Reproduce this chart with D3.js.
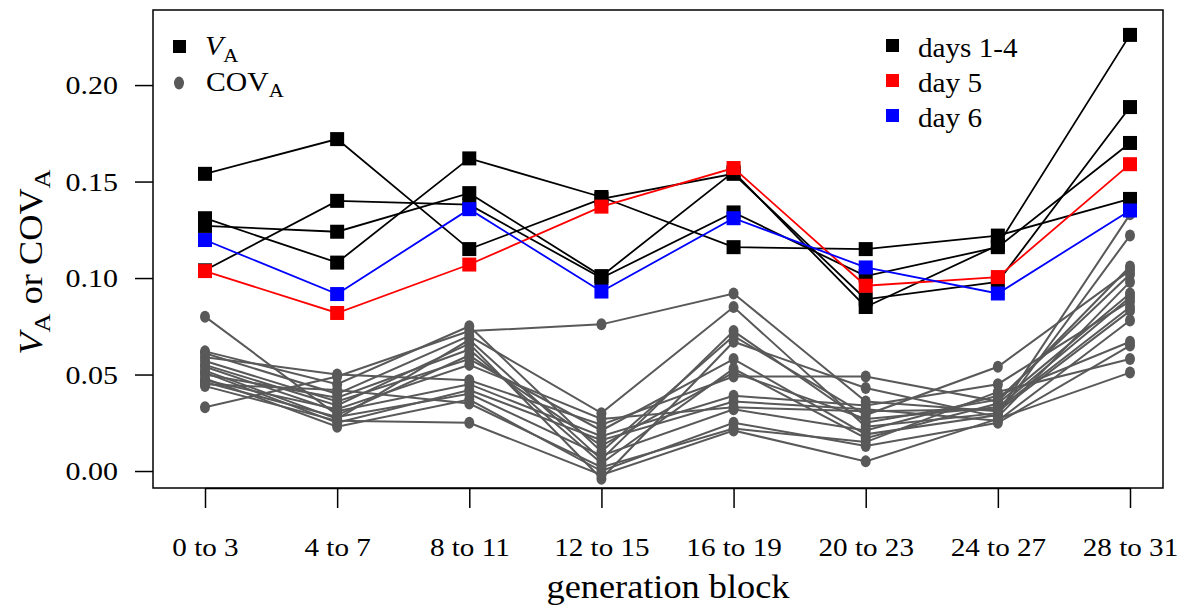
<!DOCTYPE html>
<html>
<head>
<meta charset="utf-8">
<script src="https://cdn.jsdelivr.net/npm/d3@7"></script>
<style>
  body { margin: 0; background: #fff; }
  text { font-family: "Liberation Serif", "DejaVu Serif", serif; }
</style>
</head>
<body>
<script>
// generation blocks on the x axis
var blocks = ['0 to 3', '4 to 7', '8 to 11', '12 to 15', '16 to 19', '20 to 23', '24 to 27', '28 to 31'];
var yTicks = [0, 0.05, 0.10, 0.15, 0.20];

// V_A, days 1-4 (four replicates)
var vaDays14 = [
    [0.154, 0.172, 0.115, 0.141, 0.154, 0.089, 0.098, 0.1886],
    [0.104, 0.140, 0.138, 0.100, 0.134, 0.101, 0.116, 0.170],
    [0.131, 0.108, 0.162, 0.142, 0.116, 0.115, 0.122, 0.141],
    [0.127, 0.124, 0.144, 0.101, 0.155, 0.085, 0.117, 0.226]
];
// V_A, day 5 and day 6
var vaDay5 = [0.1036, 0.0819, 0.107, 0.137, 0.157, 0.096, 0.1005, 0.159];
var vaDay6 = [0.1197, 0.0917, 0.1357, 0.093, 0.131, 0.1055, 0.092, 0.135];

// COV_A series
var covA = [
    [0.080, 0.029, 0.060, 0.013, 0.051, 0.027, 0.033, 0.090],
    [0.033, 0.049, 0.0725, 0.076, 0.092, 0.036, 0.031, 0.083],
    [0.062, 0.045, 0.075, 0.010, 0.070, 0.029, 0.054, 0.104],
    [0.061, 0.040, 0.070, 0.030, 0.085, 0.023, 0.030, 0.133],
    [0.059, 0.050, 0.047, 0.024, 0.049, 0.049, 0.036, 0.106],
    [0.057, 0.036, 0.058, 0.021, 0.058, 0.019, 0.029, 0.122],
    [0.055, 0.034, 0.066, -0.004, 0.067, 0.043, 0.028, 0.098],
    [0.054, 0.031, 0.045, 0.018, 0.039, 0.034, 0.045, 0.088],
    [0.052, 0.027, 0.068, 0.006, 0.0725, 0.025, 0.037, 0.102],
    [0.051, 0.025, 0.042, 0.016, 0.036, 0.032, 0.026, 0.078],
    [0.050, 0.038, 0.063, 0.004, 0.053, 0.017, 0.035, 0.092],
    [0.048, 0.023, 0.037, 0.000, 0.025, 0.013, 0.025, 0.065],
    [0.047, 0.032, 0.055, 0.027, 0.033, 0.031, 0.032, 0.085],
    [0.046, 0.028, 0.040, 0.008, 0.032, 0.021, 0.039, 0.067],
    [0.045, 0.042, 0.035, 0.002, 0.022, 0.015, 0.041, 0.058],
    [0.044, 0.026, 0.025, -0.002, 0.021, 0.005, 0.027, 0.051]
];

var frame = {left: 153, right: 1163, top: 10, bottom: 488};
var grey = '#595959';

var svg = d3.select('body').append('svg')
    .attr('width', 1189)
    .attr('height', 609);

var x = d3.scaleLinear().domain([0, blocks.length - 1]).range([205, 1130]);
var y = d3.scaleLinear().domain([-0.0088, 0.2389]).range([frame.bottom, frame.top]);

var line = d3.line()
    .x(function(d, i) { return x(i); })
    .y(function(d) { return y(d); });

// the original type is a bit wider than Liberation Serif, so widen it
function widen(sel, k) {
    sel.each(function() {
        var w = this.getComputedTextLength();
        d3.select(this).attr('textLength', w * k).attr('lengthAdjust', 'spacingAndGlyphs');
    });
}

// box
svg.append('rect')
    .attr('x', frame.left)
    .attr('y', frame.top)
    .attr('width', frame.right - frame.left)
    .attr('height', frame.bottom - frame.top)
    .attr('fill', 'none')
    .attr('stroke', '#000')
    .attr('stroke-width', 1.5);

// x axis
var xAxis = svg.append('g')
    .attr('transform', 'translate(0,' + frame.bottom + ')')
    .call(d3.axisBottom(x).tickValues(d3.range(blocks.length))
        .tickFormat(function(i) { return blocks[i]; })
        .tickSize(20).tickSizeOuter(0));
xAxis.select('.domain').attr('stroke-width', 1.5);
xAxis.selectAll('line').attr('stroke-width', 1.5);
xAxis.selectAll('text')
    .attr('y', 68).attr('dy', null)
    .attr('font-size', 26)
    .style('font-family', '"Liberation Serif", serif')
    .call(widen, 1.12);

// y axis
var yAxis = svg.append('g')
    .attr('transform', 'translate(' + frame.left + ',0)')
    .call(d3.axisLeft(y).tickValues(yTicks)
        .tickFormat(d3.format('.2f'))
        .tickSize(18).tickPadding(17).tickSizeOuter(0));
yAxis.select('.domain').remove();
yAxis.selectAll('line').attr('stroke-width', 1.5);
yAxis.selectAll('text')
    .attr('font-size', 25)
    .attr('dy', '0.34em')
    .style('font-family', '"Liberation Serif", serif')
    .call(widen, 1.2);

// COV_A lines and dots
covA.forEach(function(s) {
    svg.append('path')
        .attr('d', line(s))
        .attr('fill', 'none')
        .attr('stroke', grey)
        .attr('stroke-width', 2);
    svg.selectAll(null).data(s).enter().append('ellipse')
        .attr('cx', function(d, i) { return x(i); })
        .attr('cy', function(d) { return y(d); })
        .attr('rx', 5)
        .attr('ry', 6)
        .attr('fill', grey);
});

// V_A lines and squares
function drawVA(s, colour) {
    svg.append('path')
        .attr('d', line(s))
        .attr('fill', 'none')
        .attr('stroke', colour)
        .attr('stroke-width', 1.8);
    svg.selectAll(null).data(s).enter().append('rect')
        .attr('x', function(d, i) { return x(i) - 7; })
        .attr('y', function(d) { return y(d) - 7; })
        .attr('width', 14)
        .attr('height', 14)
        .attr('fill', colour);
}
vaDays14.forEach(function(s) { drawVA(s, '#000'); });
drawVA(vaDay5, '#ff0000');
drawVA(vaDay6, '#0000ff');

// left legend
svg.append('rect').attr('x', 173).attr('y', 40).attr('width', 13).attr('height', 13).attr('fill', '#000');
svg.append('ellipse').attr('cx', 179).attr('cy', 83).attr('rx', 5).attr('ry', 6.5).attr('fill', grey);
var t1 = svg.append('text').attr('x', 205).attr('y', 55).attr('font-size', 27);
t1.append('tspan').attr('font-style', 'italic').text('V');
t1.append('tspan').attr('font-size', 19).attr('dy', 7).text('A');
var t2 = svg.append('text').attr('x', 206).attr('y', 91).attr('font-size', 27);
t2.append('tspan').text('COV');
t2.append('tspan').attr('font-size', 19).attr('dy', 6).text('A');
widen(t1, 1.1);
widen(t2, 1.1);

// right legend
var days = [['days 1-4', '#000'], ['day 5', '#ff0000'], ['day 6', '#0000ff']];
days.forEach(function(d, i) {
    svg.append('rect')
        .attr('x', 886).attr('y', 39 + i * 35)
        .attr('width', 13).attr('height', 13)
        .attr('fill', d[1]);
    svg.append('text')
        .attr('x', 918).attr('y', 57 + i * 35)
        .attr('font-size', 27)
        .text(d[0])
        .call(widen, 1.08);
});

// axis titles
svg.append('text')
    .attr('x', 668).attr('y', 598)
    .attr('text-anchor', 'middle')
    .attr('font-size', 33)
    .text('generation block')
    .call(widen, 1.1);

var yt = svg.append('text')
    .attr('transform', 'translate(42,262) rotate(-90)')
    .attr('text-anchor', 'middle')
    .attr('font-size', 33);
yt.append('tspan').attr('font-style', 'italic').text('V');
yt.append('tspan').attr('font-size', 24).attr('dy', 8).text('A');
yt.append('tspan').attr('dy', -8).text(' or COV');
yt.append('tspan').attr('font-size', 24).attr('dy', 8).text('A');
widen(yt, 1.1);
</script>
</body>
</html>
